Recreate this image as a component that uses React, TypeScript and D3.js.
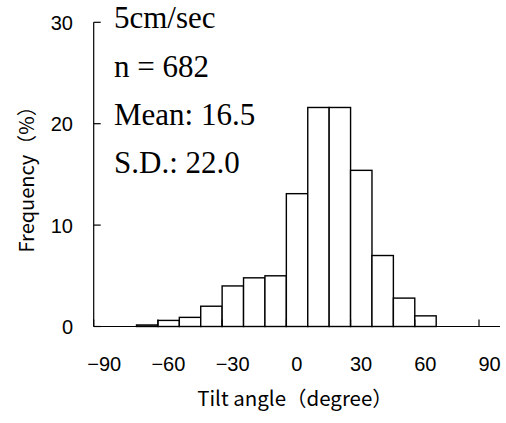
import React from "react";
import * as d3 from "d3";

const binStarts = [-70, -60, -50, -40, -30, -20, -10, 0, 10, 20, 30, 40, 50, 60];
const binWidth = 10;
const frequency = [0.15, 0.6, 0.9, 2.0, 4.0, 4.8, 5.0, 13.1, 21.6, 21.6, 15.4, 7.0, 2.8, 1.05];
const xTicks = [-90, -60, -30, 0, 30, 60, 90];
const yTicks = [0, 10, 20, 30];
const infoLines = ["5cm/sec", "n = 682", "Mean: 16.5", "S.D.: 22.0"];
const xTitle = "Tilt angle（degree）";
const yTitle = "Frequency（%）";

export default function App() {
  const W = 506, H = 423;
  const x = d3.scaleLinear().domain([-90, 90]).range([93.7, 479]);
  const y = d3.scaleLinear().domain([0, 30]).range([326.5, 22.3]);
  const fmt = (v: number) => (v < 0 ? "−" + Math.abs(v) : String(v));
  const sans = "'Liberation Sans', Arial, sans-serif";
  const serif = "'Liberation Serif', 'Times New Roman', serif";
  const jp = "'Noto Sans CJK JP', sans-serif";
  return (
    <svg width={W} height={H} style={{ position: "absolute", left: 0, top: 0, background: "#fff" }}>
      <rect width={W} height={H} fill="#fff" />
      {binStarts.map((b, i) => (
        <rect
          key={b}
          x={x(b)}
          y={y(frequency[i])}
          width={x(b + binWidth) - x(b)}
          height={y(0) - y(frequency[i])}
          fill="#fff"
          stroke="#000"
          strokeWidth={1.4}
        />
      ))}
      <line x1={x(-90)} x2={x(-90)} y1={y(30)} y2={y(0)} stroke="#000" strokeWidth={1.2} />
      <line x1={x(-90)} x2={500} y1={y(0)} y2={y(0)} stroke="#000" strokeWidth={1.2} />
      {yTicks.map((t) => (
        <g key={t}>
          <line x1={x(-90)} x2={x(-90) + 7} y1={y(t)} y2={y(t)} stroke="#000" strokeWidth={1.2} />
          <text x={73} y={y(t) + 7.5} textAnchor="end" fontFamily={sans} fontSize={20} fill="#000">
            {t}
          </text>
        </g>
      ))}
      {xTicks.map((t) => (
        <g key={t}>
          <line x1={x(t)} x2={x(t)} y1={y(0)} y2={y(0) - 7} stroke="#000" strokeWidth={1.2} />
          <text x={x(t) + 10.5} y={371} textAnchor="middle" fontFamily={sans} fontSize={20} fill="#000">
            {fmt(t)}
          </text>
        </g>
      ))}
      <text x={295} y={406} textAnchor="middle" fontFamily={jp} fontSize={20.5} fill="#000">
        {xTitle}
      </text>
      <text
        transform={`translate(34, ${(y(0) + y(30)) / 2}) rotate(-90)`}
        textAnchor="middle"
        fontFamily={jp}
        fontSize={20}
        fill="#000"
      >
        {yTitle}
      </text>
      {infoLines.map((s, i) => (
        <text key={s} x={114} y={28.3 + i * 48.3} fontFamily={serif} fontSize={31} fill="#000">
          {s}
        </text>
      ))}
    </svg>
  );
}
